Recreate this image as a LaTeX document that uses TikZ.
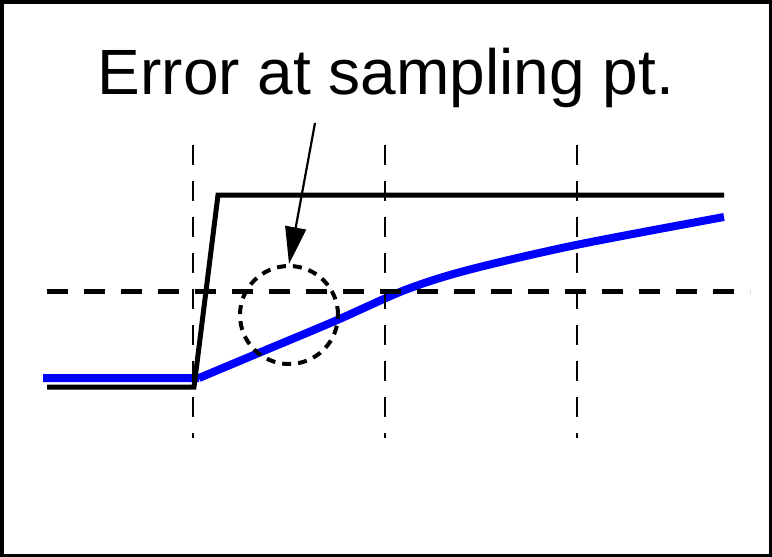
\documentclass[tikz,border=0pt]{standalone}
\usepackage{fontspec}
\setmainfont{Liberation Sans}
\usetikzlibrary{arrows.meta}
\definecolor{respblue}{RGB}{0,0,255}

\begin{document}
\begin{tikzpicture}[x=1pt, y=-1pt,
  gridv/.style={line width=2.6pt, dash pattern=on 20pt off 16pt},
  gridh/.style={line width=5pt, dash pattern=on 21pt off 16pt},
  stepln/.style={line width=5pt, line join=miter},
  respln/.style={line width=8pt, respblue},
  errc/.style={circle, draw, line width=4pt, dash pattern=on 9pt off 7pt,
               minimum size=98pt, inner sep=0pt},
  arr/.style={-{Triangle[length=37pt, width=21pt]}, line width=2.2pt},
]
\useasboundingbox (0,0) rectangle (772,557);
% Frame
\draw[line width=3.5pt] (1.75,1.75) rectangle (770.25,555.25);

% Label
\node[font=\fontsize{64}{64}\selectfont, inner sep=0pt, anchor=base] (title) at (386,94)
  {Error at sampling pt.};

% Response (blue)
\draw[respln] (43,378) -- (199,378)
  plot[smooth, tension=0.5] coordinates {(199,378) (261,352) (335,321) (405,290)
    (468,270) (576,245) (724,217)};

% Sampling instants and threshold
\foreach \x in {193,385,577}
  \draw[gridv] (\x,145) -- (\x,438);
\draw[gridh] (47,291) -- (750,291);

% Input step (black)
\draw[stepln] (47,387) -- (194,387) -- (218,195) -- (724,195);

% Error circle and arrow
\node[errc] (err) at (289,315) {};
\coordinate (tail) at (315,123);
\draw[arr] (tail) -- (err.north);
\end{tikzpicture}
\end{document}
